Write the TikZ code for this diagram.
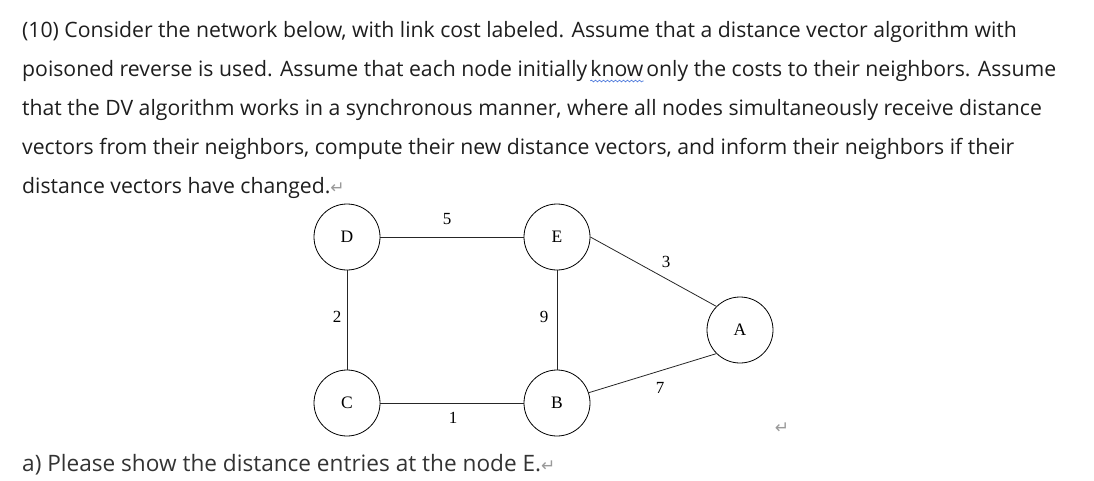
\documentclass[tikz,border=0pt]{standalone}
\usepackage{fontspec}
\setmainfont{Open Sans}
\newfontfamily\labelfont{Liberation Serif}
\newfontfamily\markfont{DejaVu Sans}
\usetikzlibrary{positioning,decorations.pathmorphing}

\definecolor{textgray}{HTML}{1E1E1E}
\definecolor{markgray}{HTML}{9A9A9A}
\definecolor{spellblue}{HTML}{4070D8}

\newcommand{\retmark}{{\markfont\color{markgray}\fontsize{17}{17}\selectfont ↵}}

\begin{document}
\begin{tikzpicture}[x=1pt,y=-1pt]
  \tikzstyle{every node}+=[inner sep=0pt]
  \tikzstyle{para}=[anchor=base west, text=textgray, font=\fontsize{21.2}{25}\selectfont]
  \tikzstyle{router}=[draw=black, line width=0.8pt, circle, minimum size=66pt, font=\labelfont\fontsize{17.5}{17.5}\selectfont]
  \tikzstyle{cost}=[font=\labelfont\fontsize{17}{17}\selectfont]
  \tikzstyle{link}=[black!85, line width=0.8pt]
  \useasboundingbox (0,0) rectangle (1094,480);
  % question text
  \node [para] (line1) at (22,37) {(10) Consider the network below, with link cost labeled. Assume that a distance vector algorithm with};
  \node [para] (line2) at (22,76) {poisoned reverse is used. Assume that each node initially};
  \node [para, xshift=0.26em] (know) at (line2.base east) {know};
  \node [para, xshift=0.26em] (line2b) at (know.base east) {only the costs to their neighbors. Assume};
  \node [para] (line3) at (22,115) {that the DV algorithm works in a synchronous manner, where all nodes simultaneously receive distance};
  \node [para] (line4) at (22,154) {vectors from their neighbors, compute their new distance vectors, and inform their neighbors if their};
  \node [para] (line5) at (22,193) {distance vectors have changed.\retmark};
  \node [para, text=black!80, font=\fontsize{22.6}{26}\selectfont] (parta) at (22,471) {a) Please show the distance entries at the node E.\retmark};
  \draw [spellblue, line width=0.6pt, decorate, decoration={snake, amplitude=0.9pt, segment length=4pt}]
    ([yshift=-5pt]know.base west) -- ([yshift=-5pt]know.base east);
  % routers
  \node [router] (D) at (347,237) {D};
  \node [router] (E) at (557,237) {E};
  \node [router] (A) at (740,330) {A};
  \node [router] (C) at (347,403) {C};
  \node [router] (B) at (557,403) {B};
  % links
  \draw [link] (D) -- (E);
  \draw [link] (D) -- (C);
  \draw [link] (E) -- (B);
  \draw [link] (C) -- (B);
  \draw [link] (E.east) -- (A.north west);
  \draw [link] (B.18) -- (A.south west);
  % costs
  \node [cost] (c5) at (447,219) {5};
  \node [cost] (c2) at (337,317) {2};
  \node [cost] (c9) at (544,317) {9};
  \node [cost] (c3) at (666,262) {3};
  \node [cost] (c7) at (660,388) {7};
  \node [cost] (c1) at (453,418) {1};
  \node (ret) at (782,428) {\retmark};
\end{tikzpicture}
\end{document}
